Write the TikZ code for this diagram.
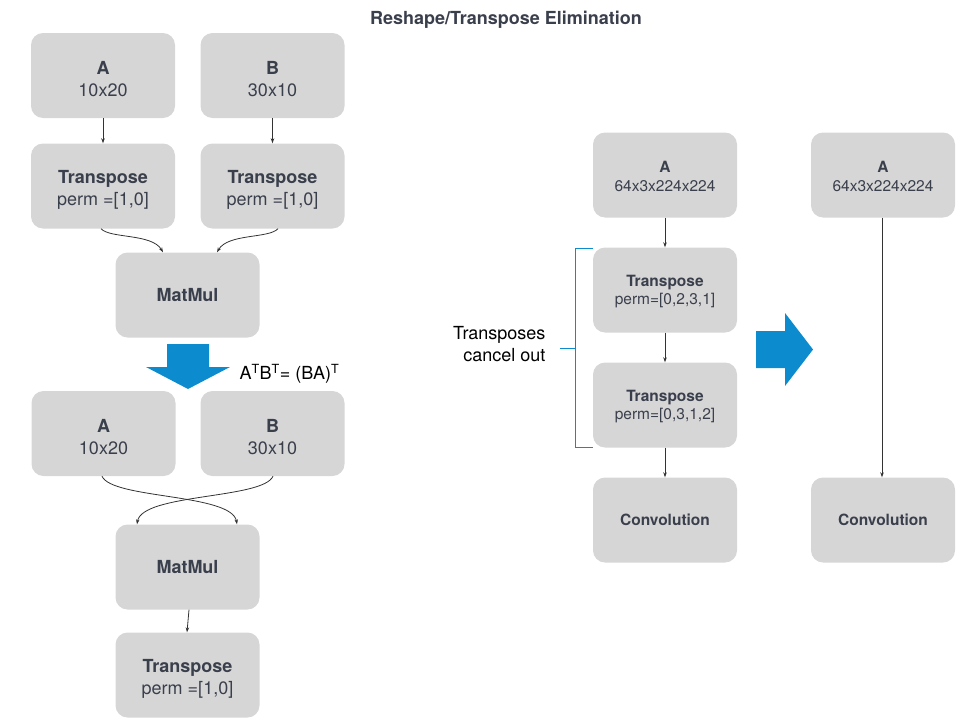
\documentclass[tikz,border=0pt]{standalone}
\usepackage{fontspec}
\setmainfont{TeX Gyre Heros}
\usetikzlibrary{arrows.meta}
\definecolor{boxgray}{HTML}{D6D6D6}
\definecolor{txt}{HTML}{3A3F4C}
\definecolor{blueA}{HTML}{0C8BCE}
\definecolor{linec}{HTML}{333333}
\newcommand\bigup{\rule{0pt}{20pt}}
\newcommand\smallup{\rule{0pt}{14.5pt}}
\begin{document}
\begin{tikzpicture}[x=1pt,y=-1pt,
  box/.style={fill=boxgray, rounded corners=12pt, draw=none, minimum width=144pt, minimum height=85pt, text=txt, align=center, inner sep=0pt},
  big/.style={font=\fontsize{18}{22}\selectfont},
  small/.style={font=\fontsize{15.5}{18.5}\selectfont},
  arr/.style={draw=linec, line width=0.8pt, -{Stealth[length=5pt,width=3.5pt]}},
  bluearrow/.style={fill=blueA, draw=none},
  bracket/.style={draw=blueA, line width=1pt}]
\useasboundingbox (0,0) rectangle (960,720);
% title
\node[text=txt, font=\fontsize{18}{22}\selectfont\bfseries] (title) at (506,20) {Reshape/Transpose Elimination};
% left top
\node[box, big] (a1) at (103,75.5) {\bigup\textbf{A}\\10x20};
\node[box, big] (b1) at (272.5,75.5) {\bigup\textbf{B}\\30x10};
\node[box, big] (t1) at (103,186) {\bigup\textbf{Transpose}\\perm =[1,0]};
\node[box, big] (t2) at (272.5,186) {\bigup\textbf{Transpose}\\perm =[1,0]};
\node[box, big] (m1) at (187.5,295) {\textbf{MatMul}};
\draw[arr] (a1.south) -- (t1.north);
\draw[arr] (b1.south) -- (t2.north);
\draw[arr] ([xshift=-2pt]t1.south) .. controls +(9,10) and +(-11,-19) .. ([xshift=-24.5pt]m1.north);
\draw[arr] ([xshift=5.5pt]t2.south) .. controls +(-9,10) and +(11,-19) .. ([xshift=29.5pt]m1.north);
% blue down arrow
\path[bluearrow] (167,344) -- (209,344) -- (209,367) -- (230,367) -- (188,389) -- (146,367) -- (167,367) -- cycle;
\node[big, anchor=west] (formula) at (236,374) {A\textsuperscript{T}B\textsuperscript{T}= (BA)\textsuperscript{T}};
% left bottom
\node[box, big] (a2) at (103.5,433.5) {\bigup\textbf{A}\\10x20};
\node[box, big] (b2) at (272.5,433.5) {\bigup\textbf{B}\\30x10};
\node[box, big] (m2) at (187.5,567) {\textbf{MatMul}};
\node[box, big] (t3) at (187.5,675) {\bigup\textbf{Transpose}\\perm =[1,0]};
\draw[arr] ([xshift=-1.5pt]a2.south) .. controls +(10,23) and +(-5,-31) .. ([xshift=49.5pt]m2.north);
\draw[arr] ([xshift=0.5pt]b2.south) .. controls +(-10,23) and +(5,-31) .. ([xshift=-50.5pt]m2.north);
\draw[arr] ([xshift=1.5pt]m2.south) -- ([xshift=-0.5pt]t3.north);
% right: with transposes
\node[box, small] (ra) at (665,175) {\smallup\textbf{A}\\64x3x224x224};
\node[box, small] (rt1) at (665,290) {\smallup\textbf{Transpose}\\perm=[0,2,3,1]};
\node[box, small] (rt2) at (665,405) {\smallup\textbf{Transpose}\\perm=[0,3,1,2]};
\node[box, small] (rc) at (665,520) {\textbf{Convolution}};
\draw[arr] (ra.south) -- (rt1.north);
\draw[arr] (rt1.south) -- (rt2.north);
\draw[arr] (rt2.south) -- (rc.north);
% bracket
\draw[bracket] ([yshift=-1pt]rt1.north west) -- ++(-17,0) |- (rt2.south west);
\coordinate (bm) at (576,348);
\draw[bracket] (bm) -- ++(-16,0);
\node[big, align=right, anchor=east] (lbl) at (549,344) {Transposes\\cancel out};
% blue right arrow
\path[bluearrow] (756,331) -- (785,331) -- (785,313) -- (813,349.5) -- (785,386) -- (785,368) -- (756,368) -- cycle;
% right: simplified
\node[box, small] (sa) at (883,175) {\smallup\textbf{A}\\64x3x224x224};
\node[box, small] (sc) at (883,520) {\textbf{Convolution}};
\draw[arr] ([xshift=-1pt]sa.south) -- ([xshift=-1pt]sc.north);
\end{tikzpicture}
\end{document}
